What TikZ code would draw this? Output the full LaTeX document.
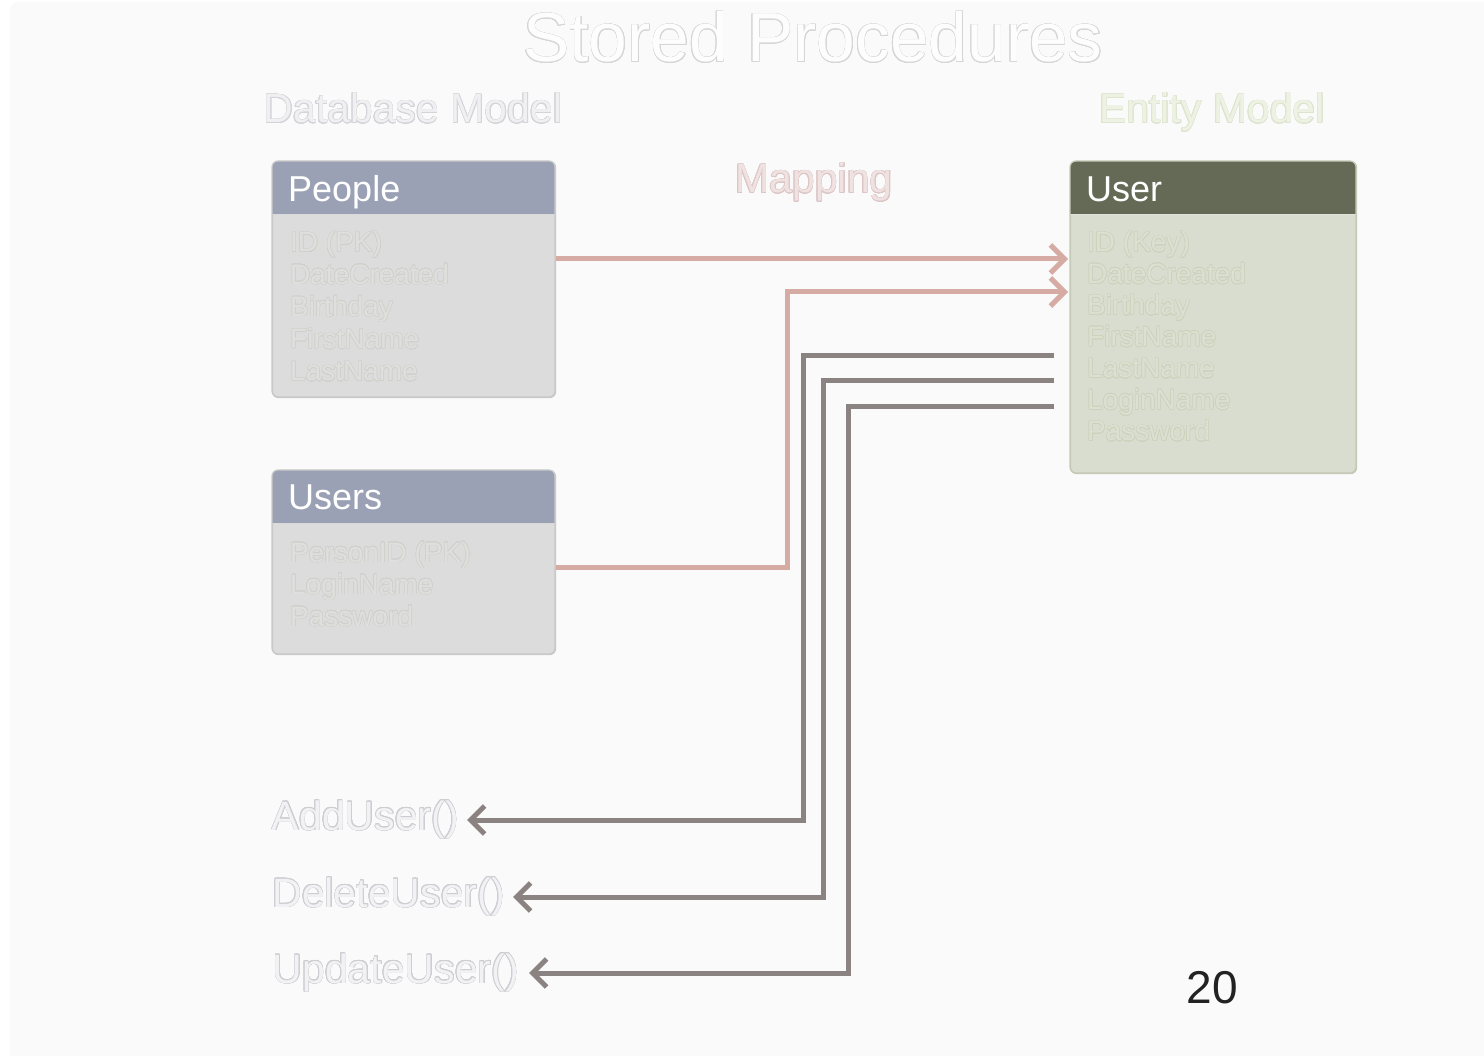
\documentclass[tikz,border=0pt]{standalone}
\usepackage{fontspec}
\setmainfont{Liberation Sans}
\usepackage{contour}
\usetikzlibrary{arrows.meta}

% Outlined text: body in the current colour, thin rim in the given colour
\contournumber{16}
\newcommand\hollow[2]{\contourlength{0.55pt}\contour{#1}{#2}}

\definecolor{slidebg}{HTML}{FAFAFA}
\definecolor{hdrblue}{HTML}{9AA1B5}
\definecolor{bodygray}{HTML}{DCDCDC}
\definecolor{edgegray}{HTML}{C9C9C9}
\definecolor{hdrolive}{HTML}{646A55}
\definecolor{bodygreen}{HTML}{D9DDD0}
\definecolor{edgegreen}{HTML}{C5CAB8}
\definecolor{mappink}{HTML}{D5ABA3}
\definecolor{procgray}{HTML}{8B8282}
\definecolor{titlefill}{HTML}{FDFDFD}
\definecolor{titlerim}{HTML}{D6D6D6}
\definecolor{dbfill}{HTML}{F0F0F2}
\definecolor{dbrim}{HTML}{D4D4D8}
\definecolor{entfill}{HTML}{EEF2E4}
\definecolor{entrim}{HTML}{DEE5CE}
\definecolor{mapfill}{HTML}{F1E2E2}
\definecolor{maprim}{HTML}{DCC6C6}
\definecolor{fieldgray}{HTML}{DFDFDD}
\definecolor{fieldgrayrim}{HTML}{D0D0CC}
\definecolor{fieldgreen}{HTML}{DBE0D1}
\definecolor{fieldgreenrim}{HTML}{CBD3BC}
\definecolor{procfill}{HTML}{F2F2F4}
\definecolor{procrim}{HTML}{CDCDD2}
\definecolor{pagenum}{HTML}{222222}

\tikzset{
  tablebox/.style={draw=#1, line width=1.2pt, rounded corners=6pt, inner sep=0pt, anchor=north west},
  hdrtext/.style={text=white, font=\fontsize{36}{36}\selectfont, anchor=base west, inner sep=0pt},
  fieldtext/.style={font=\fontsize{28}{28}\selectfont, anchor=base west, inner sep=0pt},
  headline/.style={font=\fontsize{41}{41}\selectfont, inner sep=0pt, anchor=base},
  proctext/.style={font=\fontsize{41}{41}\selectfont, inner sep=0pt, anchor=base east, text=procfill},
  maparrow/.style={draw=mappink, line width=5pt, -{Straight Barb[length=14pt,width=28pt,line width=5pt]}},
  procarrow/.style={draw=procgray, line width=5pt, -{Straight Barb[length=14pt,width=28pt,line width=5pt]}},
}

\begin{document}
\begin{tikzpicture}[x=1pt,y=-1pt]
\useasboundingbox (0,0) rectangle (1484,1056);
\fill[white] (0,0) rectangle (1484,1056);
\fill[slidebg, rounded corners=8pt] (10,2) rectangle (1500,1070);

% titles
\node[font=\fontsize{69.5}{69.5}\selectfont, inner sep=0pt, anchor=base, text=titlefill] (title) at (813,62) {\hollow{titlerim}{Stored Procedures}};
\node[headline, text=dbfill] (dbhead) at (413,123) {\hollow{dbrim}{Database Model}};
\node[headline, text=entfill] (enthead) at (1212,123) {\hollow{entrim}{Entity Model}};
\node[headline, text=mapfill] (maphead) at (814,193) {\hollow{maprim}{Mapping}};

% database table: People
\node[tablebox=edgegray, fill=bodygray, minimum width=283pt, minimum height=236pt] (people) at (272,161) {};
\begin{scope}
  \clip[rounded corners=6pt] (272,161) rectangle (555,397);
  \fill[hdrblue] (272,161) rectangle (555,214);
  \draw[white!85!black, line width=1pt] (272,214.5) -- (555,214.5);
\end{scope}
\draw[edgegray, line width=1.2pt, rounded corners=6pt] (272,161) rectangle (555,397);
\node[hdrtext] (peoplename) at (288,202) {People};
\node[fieldtext, text=fieldgray] (p1) at (290,252) {\hollow{fieldgrayrim}{ID (PK)}};
\node[fieldtext, text=fieldgray] (p2) at (290,284.2) {\hollow{fieldgrayrim}{DateCreated}};
\node[fieldtext, text=fieldgray] (p3) at (290,316.4) {\hollow{fieldgrayrim}{Birthday}};
\node[fieldtext, text=fieldgray] (p4) at (290,348.6) {\hollow{fieldgrayrim}{FirstName}};
\node[fieldtext, text=fieldgray] (p5) at (290,380.8) {\hollow{fieldgrayrim}{LastName}};

% database table: Users
\node[tablebox=edgegray, fill=bodygray, minimum width=283pt, minimum height=184pt] (users) at (272,470) {};
\begin{scope}
  \clip[rounded corners=6pt] (272,470) rectangle (555,654);
  \fill[hdrblue] (272,470) rectangle (555,523);
  \draw[white!85!black, line width=1pt] (272,523.5) -- (555,523.5);
\end{scope}
\draw[edgegray, line width=1.2pt, rounded corners=6pt] (272,470) rectangle (555,654);
\node[hdrtext] (usersname) at (288,510) {Users};
\node[fieldtext, text=fieldgray] (u1) at (290,562) {\hollow{fieldgrayrim}{PersonID (PK)}};
\node[fieldtext, text=fieldgray] (u2) at (290,594) {\hollow{fieldgrayrim}{LoginName}};
\node[fieldtext, text=fieldgray] (u3) at (290,626) {\hollow{fieldgrayrim}{Password}};

% entity: User
\node[tablebox=edgegreen, fill=bodygreen, minimum width=286pt, minimum height=312pt] (user) at (1070,161) {};
\begin{scope}
  \clip[rounded corners=6pt] (1070,161) rectangle (1356,473);
  \fill[hdrolive] (1070,161) rectangle (1356,214);
  \draw[bodygreen!80!white, line width=1pt] (1070,214.5) -- (1356,214.5);
\end{scope}
\draw[edgegreen, line width=1.2pt, rounded corners=6pt] (1070,161) rectangle (1356,473);
\node[hdrtext] (username) at (1086,202) {User};
\node[fieldtext, text=fieldgreen] (e1) at (1087,252) {\hollow{fieldgreenrim}{ID (Key)}};
\node[fieldtext, text=fieldgreen] (e2) at (1087,283.5) {\hollow{fieldgreenrim}{DateCreated}};
\node[fieldtext, text=fieldgreen] (e3) at (1087,315) {\hollow{fieldgreenrim}{Birthday}};
\node[fieldtext, text=fieldgreen] (e4) at (1087,346.5) {\hollow{fieldgreenrim}{FirstName}};
\node[fieldtext, text=fieldgreen] (e5) at (1087,378) {\hollow{fieldgreenrim}{LastName}};
\node[fieldtext, text=fieldgreen] (e6) at (1087,409.5) {\hollow{fieldgreenrim}{LoginName}};
\node[fieldtext, text=fieldgreen] (e7) at (1087,441) {\hollow{fieldgreenrim}{Password}};

% mapping connectors
\draw[maparrow] (people.east |- 0,259) -- ([xshift=-2pt]user.west |- 0,259);
\draw[maparrow] (users.east |- 0,567) -- (787,567) -- (787,292) -- ([xshift=-2pt]user.west |- 0,292);

% stored procedures
\node[proctext] (addu) at (459,830) {\hollow{procrim}{AddUser()}};
\node[proctext] (delu) at (505,907) {\hollow{procrim}{DeleteUser()}};
\node[proctext] (updu) at (519,983) {\hollow{procrim}{UpdateUser()}};

\coordinate (s1) at (1054,356);
\coordinate (s2) at (1054,381);
\coordinate (s3) at (1054,407);
\draw[procarrow, shorten >=8pt] (s1) -- (803,356) -- (803,820) -- (addu.east |- 0,820);
\draw[procarrow, shorten >=8pt] (s2) -- (823,381) -- (823,897) -- (delu.east |- 0,897);
\draw[procarrow, shorten >=10pt] (s3) -- (848,407) -- (848,973) -- (updu.east |- 0,973);

% page number
\node[font=\fontsize{46}{46}\selectfont, text=pagenum, inner sep=0pt] (pgno) at (1212,988) {20};
\end{tikzpicture}
\end{document}
